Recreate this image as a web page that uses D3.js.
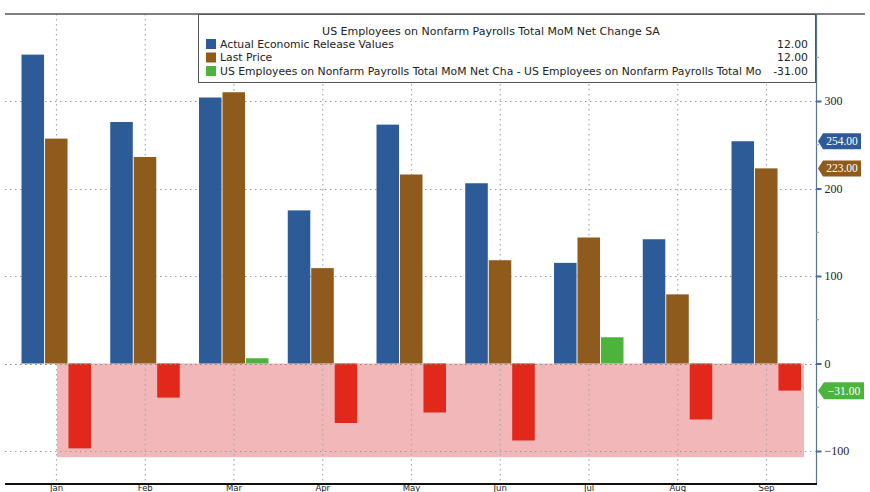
<!DOCTYPE html>
<html>
<head>
<meta charset="utf-8">
<script src="https://cdn.jsdelivr.net/npm/d3@7"></script>
<style>
  html, body { margin: 0; padding: 0; background: #ffffff; }
  svg { display: block; }
</style>
</head>
<body>
<svg id="chart" width="870" height="492"></svg>
<script>
// ---- data ----
const months = ["Jan", "Feb", "Mar", "Apr", "May", "Jun", "Jul", "Aug", "Sep"];
const actualValues = [353, 276, 304, 175, 273, 206, 115, 142, 254];
const lastPrice = [257, 236, 310, 109, 216, 118, 144, 79, 223];
const difference = [-97, -39, 6, -68, -56, -88, 30, -64, -31];
const yTicks = [-100, 0, 100, 200, 300];
const yMinorTicks = [-50, 50, 150, 250, 350];
const legendTitle = "US Employees on Nonfarm Payrolls Total MoM Net Change SA";
const legendNames = ["Actual Economic Release Values", "Last Price",
  "US Employees on Nonfarm Payrolls Total MoM Net Cha - US Employees on Nonfarm Payrolls Total Mo"];
const legendValues = ["12.00", "12.00", "-31.00"];
const lastTags = [254, 223, -31];
const bandRange = [0, -107];

// ---- styles ----
const C_BLUE = "#2d5b98", C_BROWN = "#8e5b1d", C_RED = "#e2281b", C_GREEN = "#4cb33d", C_PINK = "#f2b8b9";
const svg = d3.select("#chart");

const x = d3.scalePoint().domain(months).range([56, 766]);
const sub = d3.scaleBand().domain(["a", "l", "d"]).range([-34.5, 35]).paddingInner(0.04);
const y = d3.scaleLinear().domain([-100, 300]).range([451, 101]);

const LEFT = 5, RIGHT = 816, TOP = 14, BOTTOM = 484;

// pink band
svg.append("rect")
  .attr("x", x("Jan") + 1)
  .attr("y", y(bandRange[0]))
  .attr("width", 804 - x("Jan") - 1)
  .attr("height", y(bandRange[1]) - y(bandRange[0]))
  .attr("fill", C_PINK);

// gridlines
const grid = svg.append("g");
grid.selectAll("line.h").data(yTicks).join("line")
  .attr("x1", LEFT).attr("x2", RIGHT)
  .attr("y1", d => Math.round(y(d)) + 0.5).attr("y2", d => Math.round(y(d)) + 0.5)
  .attr("stroke", "#9a9a9a").attr("stroke-width", 1.2).attr("stroke-dasharray", "1.5,3.5");
grid.selectAll("line.v").data(months).join("line")
  .attr("x1", d => x(d) + 0.5).attr("x2", d => x(d) + 0.5)
  .attr("y1", TOP).attr("y2", BOTTOM)
  .attr("stroke", "#a8a8a8").attr("stroke-width", 1.2).attr("stroke-dasharray", "1.5,3.5");

// bars
const bars = svg.append("g");
const y0 = y(0);
bars.selectAll("rect.a").data(actualValues).join("rect")
  .attr("x", (d, i) => x(months[i]) + sub("a"))
  .attr("width", sub.bandwidth())
  .attr("y", d => y(Math.max(0, d)))
  .attr("height", d => Math.abs(y(d) - y0))
  .attr("fill", C_BLUE);
bars.selectAll("rect.l").data(lastPrice).join("rect")
  .attr("x", (d, i) => x(months[i]) + sub("l"))
  .attr("width", sub.bandwidth())
  .attr("y", d => y(Math.max(0, d)))
  .attr("height", d => Math.abs(y(d) - y0))
  .attr("fill", C_BROWN);
bars.selectAll("rect.d").data(difference).join("rect")
  .attr("x", (d, i) => x(months[i]) + sub("d"))
  .attr("width", sub.bandwidth())
  .attr("y", d => y(Math.max(0, d)))
  .attr("height", d => Math.abs(y(d) - y0))
  .attr("fill", d => d < 0 ? C_RED : C_GREEN);

// zero gridline over bars
svg.append("line")
  .attr("x1", LEFT).attr("x2", RIGHT)
  .attr("y1", Math.round(y0) + 0.5).attr("y2", Math.round(y0) + 0.5)
  .attr("stroke", "#8a8a8a").attr("stroke-width", 1.2).attr("stroke-dasharray", "1.5,3.5");

// frame lines
svg.append("line").attr("x1", LEFT).attr("x2", 865).attr("y1", TOP).attr("y2", TOP)
  .attr("stroke", "#555").attr("stroke-width", 1.5);
svg.append("line").attr("x1", RIGHT + 0.5).attr("x2", RIGHT + 0.5).attr("y1", TOP).attr("y2", BOTTOM)
  .attr("stroke", "#5b7396").attr("stroke-width", 1.2);

// bottom axis
const xAxis = d3.axisBottom(x).tickSize(0).tickPadding(0);
const gx = svg.append("g").attr("transform", `translate(0,${BOTTOM})`).call(xAxis);
gx.select(".domain").remove();
gx.append("line").attr("x1", LEFT).attr("x2", RIGHT + 1).attr("y1", 0).attr("y2", 0)
  .attr("stroke", "#111").attr("stroke-width", 2);
gx.selectAll(".tick text").attr("dy", null).attr("y", 6.5)
  .attr("font-family", "DejaVu Sans, sans-serif").attr("font-size", 8.5).attr("fill", "#222");

// right axis
const yAxis = d3.axisRight(y).tickValues(yTicks).tickSize(5).tickPadding(3).tickFormat(d3.format("d"));
const gy = svg.append("g").attr("transform", `translate(${RIGHT + 0.5},0)`).call(yAxis);
gy.select(".domain").remove();
gy.selectAll(".tick line").attr("stroke", "#3f6aa3").attr("stroke-width", 2);
gy.selectAll("text").attr("font-family", "Liberation Serif, serif").attr("font-size", 12).attr("fill", "#222");
svg.append("g").selectAll("line").data(yMinorTicks).join("line")
  .attr("x1", RIGHT).attr("x2", RIGHT + 3)
  .attr("y1", d => y(d)).attr("y2", d => y(d))
  .attr("stroke", "#8a9ab0").attr("stroke-width", 1);

// last value tags
const tagColors = [C_BLUE, C_BROWN, C_GREEN];
const tags = svg.append("g").selectAll("g").data(lastTags).join("g")
  .attr("transform", d => `translate(${RIGHT + 2},${y(d)})`);
tags.append("path")
  .attr("d", (d, i) => i === 2 ? "M0,0 L6,-8.5 L46,-8.5 L46,8.5 L6,8.5 Z" : "M0,0 L5,-8 L43,-8 L43,8 L5,8 Z")
  .attr("fill", (d, i) => tagColors[i]);
tags.append("text")
  .attr("x", (d, i) => i === 2 ? 26 : 24).attr("y", 4)
  .attr("text-anchor", "middle")
  .attr("font-family", "Liberation Serif, serif").attr("font-size", 11.5)
  .attr("fill", "#ffffff")
  .text(d => d3.format(".2f")(d));

// legend
const lg = svg.append("g");
lg.append("rect").attr("x", 198.5).attr("y", TOP + 0.5).attr("width", 617).attr("height", 68)
  .attr("fill", "#ffffff").attr("stroke", "#555").attr("stroke-width", 1);
lg.append("text").attr("x", 491).attr("y", 35).attr("text-anchor", "middle")
  .attr("font-family", "DejaVu Sans, sans-serif").attr("font-size", 11).attr("fill", "#222")
  .text(legendTitle);
const legendColors = [C_BLUE, C_BROWN, C_GREEN];
const rows = lg.selectAll("g.row").data(legendNames).join("g")
  .attr("transform", (d, i) => `translate(0,${44 + i * 13.5})`);
rows.append("rect").attr("x", 206).attr("y", -5).attr("width", 10).attr("height", 10)
  .attr("fill", (d, i) => legendColors[i]);
rows.append("text").attr("x", 220).attr("y", 3.8)
  .attr("font-family", "DejaVu Sans, sans-serif").attr("font-size", 10.8).attr("fill", "#222")
  .text(d => d);
rows.append("text").attr("x", 808).attr("y", 3.8).attr("text-anchor", "end")
  .attr("font-family", "DejaVu Sans, sans-serif").attr("font-size", 10.8).attr("fill", "#222")
  .text((d, i) => legendValues[i]);
</script>
</body>
</html>
